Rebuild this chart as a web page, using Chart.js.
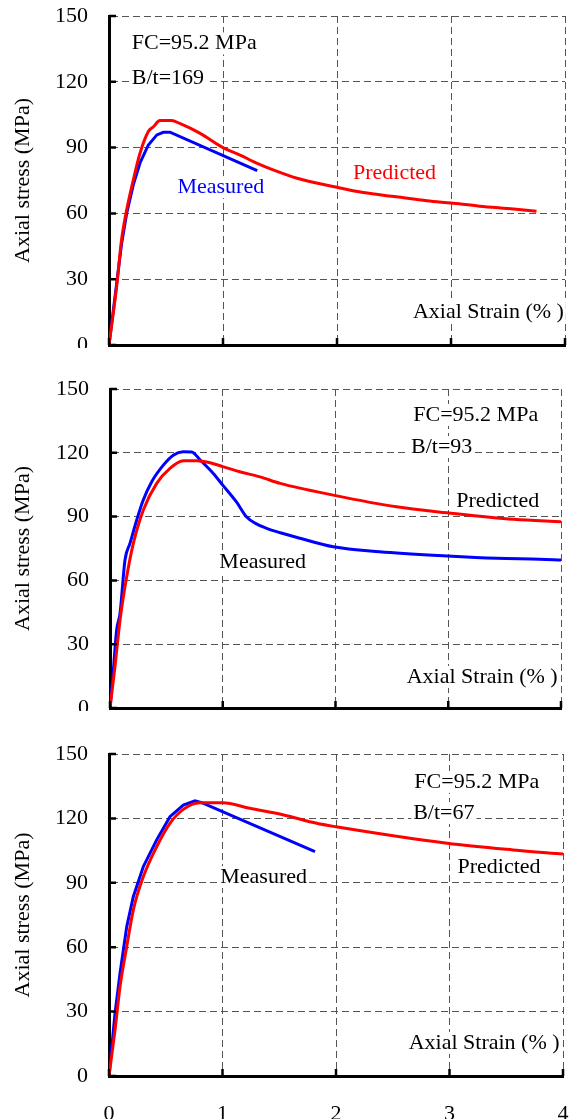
<!DOCTYPE html>
<html>
<head>
<meta charset="utf-8">
<title>Axial stress vs axial strain</title>
<script src="https://cdn.jsdelivr.net/npm/chart.js@4.4.1/dist/chart.umd.min.js"></script>
<style>
  body { margin: 0; background: #fff; }
  #wrap { position: relative; width: 576px; height: 1119px; overflow: hidden; }
  .panel { position: absolute; left: 0; width: 576px; }
</style>
</head>
<body>
<div id="wrap">
  <div class="panel" style="top:0;height:348px"><canvas id="chart169"></canvas></div>
  <div class="panel" style="top:348px;height:363px"><canvas id="chart93"></canvas></div>
  <div class="panel" style="top:711px;height:408px"><canvas id="chart67"></canvas></div>
</div>
<script>
const FONT = "'Liberation Serif', 'Times New Roman', serif";

// axis ticks
const strainTicks = [0, 1, 2, 3, 4];
const stressTicks = [0, 30, 60, 90, 120, 150];

// B/t = 169
const predStrain169 = [0, 0.067, 0.11, 0.155, 0.213, 0.272, 0.345, 0.39, 0.447, 0.55, 0.62, 0.8, 1.0, 1.15, 1.3, 1.44, 1.65, 2.0, 2.23, 2.52, 2.79, 3.0, 3.25, 3.55, 3.75];
const predStress169 = [0, 26.6, 47.9, 61.6, 75.2, 87.4, 97.3, 99.5, 102.3, 102.3, 101, 96.5, 90, 86.6, 82.8, 79.8, 76, 71.9, 69.5, 67.6, 65.8, 64.7, 63.3, 62, 61];
const measStrain169 = [0, 0.06, 0.11, 0.155, 0.213, 0.272, 0.345, 0.42, 0.476, 0.535, 1.3];
const measStress169 = [0, 25, 46, 60, 73, 83, 91.2, 95.8, 97, 97, 79.5];

// B/t = 93
const predStrain93 = [0, 0.044, 0.089, 0.148, 0.207, 0.295, 0.414, 0.532, 0.65, 0.769, 0.887, 1.0, 1.15, 1.33, 1.51, 1.98, 2.54, 2.99, 3.58, 4.0];
const predStress93 = [0, 19.4, 41.4, 61.7, 77.4, 93, 105.6, 112.7, 116.3, 116.3, 115.3, 113.5, 111.1, 108.7, 105.6, 100.1, 94.6, 91.8, 88.7, 87.6];
const measStrain93 = [0, 0.03, 0.059, 0.089, 0.133, 0.177, 0.237, 0.295, 0.37, 0.473, 0.561, 0.65, 0.725, 0.8, 0.916, 1.0, 1.12, 1.21, 1.29, 1.39, 1.51, 1.685, 1.98, 2.39, 2.99, 3.43, 3.81, 4.0];
const measStress93 = [0, 17.9, 36.7, 44.5, 69.6, 77.4, 88.4, 97.8, 106.4, 114.2, 118.9, 120.5, 120.4, 116.6, 110.3, 104.8, 97, 89.9, 86.8, 84.5, 82.4, 79.8, 75.8, 73.5, 71.5, 70.4, 70, 69.6];

// B/t = 67
const predStrain67 = [0, 0.053, 0.097, 0.156, 0.214, 0.302, 0.42, 0.537, 0.655, 0.8, 1.0, 1.24, 1.54, 1.83, 2.0, 2.98, 3.56, 4.0];
const predStress67 = [0, 21.4, 41.6, 60.2, 77.3, 92.8, 106.8, 117.7, 124.2, 127.3, 127.3, 124.7, 121.6, 117.7, 116.1, 108.4, 105.3, 103.4];
const measStrain67 = [0, 0.053, 0.097, 0.156, 0.214, 0.302, 0.42, 0.537, 0.655, 0.758, 0.817, 1.815];
const measStress67 = [0, 29.2, 47.8, 69.5, 83.5, 97.5, 110, 120.8, 126.2, 128.2, 127.3, 104.5];

function toPoints(xs, ys) {
    return xs.map((v, i) => ({ x: v, y: ys[i] }));
}

// short ticks drawn inward from the axes
const insideTicks = {
    id: 'insideTicks',
    afterDraw(chart) {
        const { ctx, chartArea, scales: { x, y } } = chart;
        ctx.save();
        ctx.strokeStyle = '#000';
        ctx.lineWidth = 2.5;
        ctx.beginPath();
        strainTicks.forEach(v => {
            const px = x.getPixelForValue(v);
            ctx.moveTo(px, chartArea.bottom);
            ctx.lineTo(px, chartArea.bottom - 7);
        });
        stressTicks.forEach(v => {
            const py = y.getPixelForValue(v);
            ctx.moveTo(chartArea.left, py);
            ctx.lineTo(chartArea.left + 7, py);
        });
        ctx.stroke();
        ctx.restore();
    }
};

function notesPlugin(notes) {
    return {
        id: 'notes',
        beforeDatasetsDraw(chart) {
            const { ctx, scales: { x, y } } = chart;
            ctx.save();
            ctx.font = '22px ' + FONT;
            ctx.textBaseline = 'middle';
            notes.forEach(n => {
                const w = ctx.measureText(n.text).width;
                let px = x.getPixelForValue(n.x);
                if (n.align === 'right') px -= w;
                const py = y.getPixelForValue(n.y);
                ctx.fillStyle = '#fff';
                ctx.fillRect(px - 2, py - 11, w + 4, 22);
                ctx.fillStyle = n.color || '#000';
                ctx.fillText(n.text, px, py);
            });
            ctx.restore();
        }
    };
}

function makeChart(id, panel) {
    const ctx = document.getElementById(id).getContext('2d');
    return new Chart(ctx, {
        type: 'scatter',
        data: {
            datasets: [
                {
                    label: 'Predicted',
                    data: toPoints(panel.predStrain, panel.predStress),
                    borderColor: '#ff0000',
                    borderWidth: 3,
                    showLine: true,
                    pointRadius: 0,
                    cubicInterpolationMode: 'monotone'
                },
                {
                    label: 'Measured',
                    data: toPoints(panel.measStrain, panel.measStress),
                    borderColor: '#0000ff',
                    borderWidth: 3,
                    showLine: true,
                    pointRadius: 0,
                    // measured lines with a straight tail stay as plain segments
                    tension: 0,
                    cubicInterpolationMode: panel.smoothMeasured ? 'monotone' : 'default'
                }
            ]
        },
        options: {
            responsive: true,
            maintainAspectRatio: false,
            animation: false,
            layout: { padding: { top: panel.padTop, right: panel.padRight, left: 0, bottom: 0 } },
            plugins: {
                legend: { display: false },
                tooltip: { enabled: false }
            },
            scales: {
                x: {
                    type: 'linear',
                    min: 0,
                    max: 4,
                    afterBuildTicks: s => { s.ticks = strainTicks.map(v => ({ value: v })); },
                    afterFit: s => { s.height = panel.xHeight; s.paddingLeft = 0; s.paddingRight = 0; },
                    ticks: {
                        display: panel.showStrainLabels,
                        padding: 25,
                        color: '#000',
                        font: { family: FONT, size: 22 }
                    },
                    grid: { color: '#555', lineWidth: 1, drawTicks: false },
                    border: { color: '#000', width: 3, dash: [7, 4] }
                },
                y: {
                    type: 'linear',
                    min: 0,
                    max: 150,
                    afterBuildTicks: s => { s.ticks = stressTicks.map(v => ({ value: v })); },
                    afterFit: s => { s.width = panel.yWidth; s.paddingTop = 0; s.paddingBottom = 0; },
                    ticks: {
                        padding: 21,
                        color: '#000',
                        font: { family: FONT, size: 22 }
                    },
                    title: {
                        display: true,
                        text: 'Axial stress (MPa)',
                        color: '#000',
                        padding: { top: 10, bottom: 0 },
                        font: { family: FONT, size: 22 }
                    },
                    grid: { color: '#555', lineWidth: 1, drawTicks: false },
                    border: { color: '#000', width: 3, dash: [7, 4] }
                }
            }
        },
        plugins: [insideTicks, notesPlugin(panel.notes)]
    });
}

window.onload = function () {
    makeChart('chart169', {
        predStrain: predStrain169, predStress: predStress169,
        measStrain: measStrain169, measStress: measStress169,
        padTop: 16, padRight: 11, xHeight: 3, yWidth: 109, showStrainLabels: false, smoothMeasured: false,
        notes: [
            { text: 'FC=95.2 MPa', x: 0.2, y: 137.5 },
            { text: 'B/t=169', x: 0.2, y: 121.7 },
            { text: 'Measured', x: 0.6, y: 72, color: '#0000ff' },
            { text: 'Predicted', x: 2.14, y: 78.4, color: '#ff0000' },
            { text: 'Axial Strain (% )', x: 3.99, y: 15, align: 'right' }
        ]
    });
    makeChart('chart93', {
        predStrain: predStrain93, predStress: predStress93,
        measStrain: measStrain93, measStress: measStress93,
        padTop: 41, padRight: 15, xHeight: 3, yWidth: 110, showStrainLabels: false, smoothMeasured: true,
        notes: [
            { text: 'FC=95.2 MPa', x: 2.69, y: 137.8 },
            { text: 'B/t=93', x: 2.67, y: 122.7 },
            { text: 'Predicted', x: 3.07, y: 97.3 },
            { text: 'Measured', x: 0.97, y: 68.6 },
            { text: 'Axial Strain (% )', x: 3.97, y: 14.6, align: 'right' }
        ]
    });
    makeChart('chart67', {
        predStrain: predStrain67, predStress: predStress67,
        measStrain: measStrain67, measStress: measStress67,
        padTop: 43, padRight: 13, xHeight: 43, yWidth: 109, showStrainLabels: true, smoothMeasured: false,
        notes: [
            { text: 'FC=95.2 MPa', x: 2.69, y: 137 },
            { text: 'B/t=67', x: 2.68, y: 122.5 },
            { text: 'Predicted', x: 3.07, y: 97.3 },
            { text: 'Measured', x: 0.98, y: 92.7 },
            { text: 'Axial Strain (% )', x: 3.97, y: 15.4, align: 'right' }
        ]
    });
};
</script>
</body>
</html>
